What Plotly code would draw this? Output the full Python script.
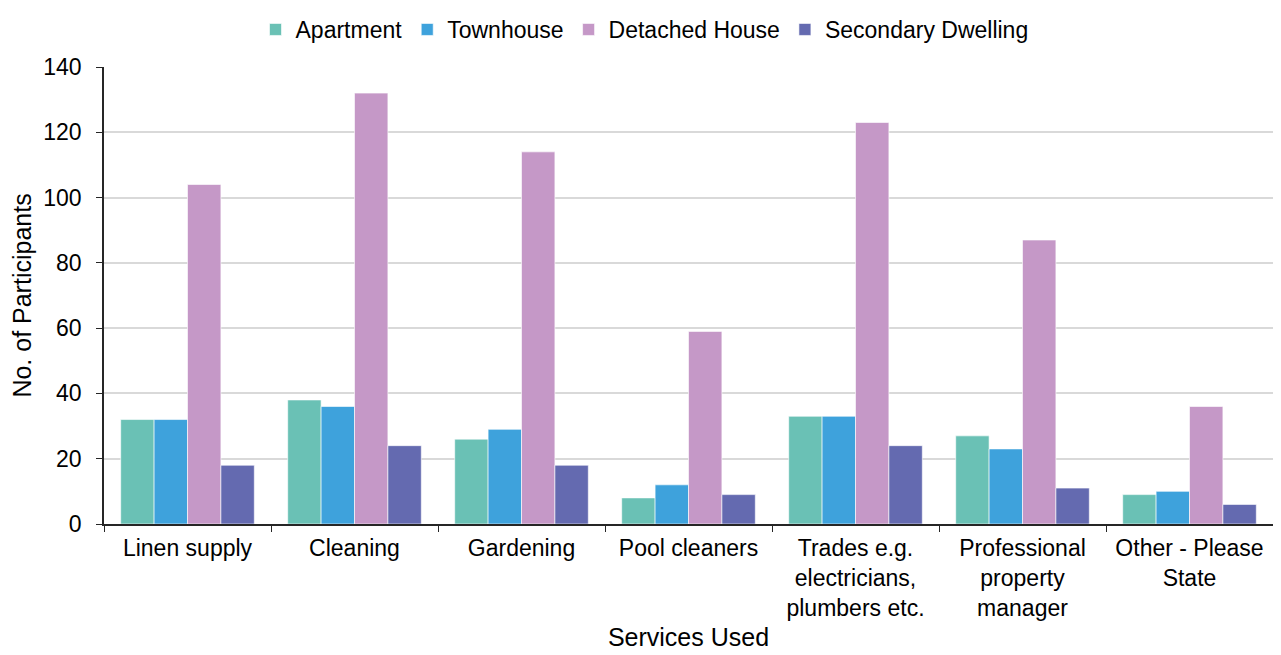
import plotly.graph_objects as go

services = ['Linen supply', 'Cleaning', 'Gardening', 'Pool cleaners',
            'Trades e.g.<br>electricians,<br>plumbers etc.',
            'Professional<br>property<br>manager', 'Other - Please<br>State']
apartment = [32, 38, 26, 8, 33, 27, 9]
townhouse = [32, 36, 29, 12, 33, 23, 10]
detached = [104, 132, 114, 59, 123, 87, 36]
secondary = [18, 24, 18, 9, 24, 11, 6]

series = [('Apartment', apartment, '#6AC1B5'),
          ('Townhouse', townhouse, '#3EA2DC'),
          ('Detached House', detached, '#C598C7'),
          ('Secondary Dwelling', secondary, '#646AB0')]

fig = go.Figure()
for name, vals, col in series:
    fig.add_trace(go.Bar(x=services, y=vals, name=name,
                         marker=dict(color=col, line=dict(color='rgba(255,255,255,0.6)', width=1))))

# page body has an 8px margin, so the figure is a bit smaller than the window
fig.update_layout(
    barmode='group', bargap=0.2, bargroupgap=0,
    width=1273, height=647,
    margin=dict(l=96, r=8, t=59, b=131),
    plot_bgcolor='white', paper_bgcolor='white',
    font=dict(family='Liberation Sans, Arial, sans-serif', size=23, color='#000000'),
    legend=dict(orientation='h', xref='container', x=0.5, xanchor='center',
                yref='container', y=1.0, yanchor='top',
                font=dict(size=23), itemwidth=30, traceorder='normal'),
)
fig.update_yaxes(range=[0, 140], dtick=20, showgrid=True, gridcolor='#D9D9D9', gridwidth=1.5,
                 showline=True, linecolor='#262626', linewidth=1.5, ticks='outside', ticklen=6,
                 tickcolor='#262626', zeroline=False, automargin=False, ticklabelstandoff=10,
                 title=dict(text='No. of Participants', font=dict(size=25), standoff=8),
                 tickfont=dict(size=23))
fig.update_xaxes(showline=True, linecolor='#262626', linewidth=1.5, ticks='outside', ticklen=6,
                 tickcolor='#262626', tickson='boundaries', tickangle=0, automargin=False,
                 ticklabelstandoff=3,
                 title=dict(text='Services Used', font=dict(size=25), standoff=8),
                 tickfont=dict(size=23))

fig.write_html("out.html")
